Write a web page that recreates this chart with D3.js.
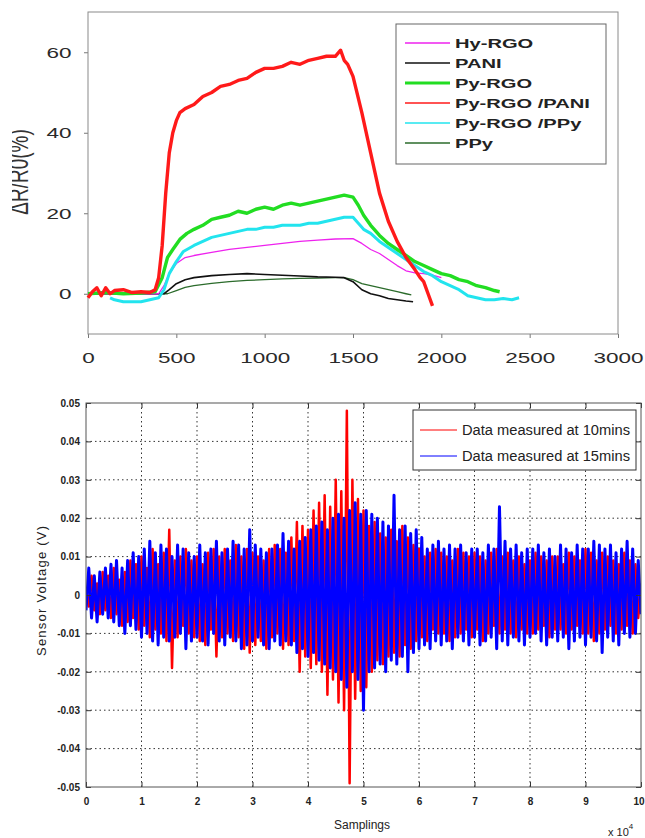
<!DOCTYPE html>
<html>
<head>
<meta charset="utf-8">
<script src="https://cdn.jsdelivr.net/npm/d3@7"></script>
<style>
body { margin: 0; background: #fff; }
svg { display: block; font-family: "Liberation Sans", Arial, sans-serif; }
</style>
</head>
<body>
<svg id="vis" width="645" height="838"></svg>
<script>
// ---------- top chart: response curves, [time, dR/R0 %] ----------
var hyRgo = [[0,0],[400,0],[430,2],[460,5],[500,7.5],[550,9],[600,9.5],[700,10.3],[800,11],[900,11.5],[1000,12],
    [1100,12.5],[1200,13],[1300,13.3],[1400,13.6],[1500,13.7],[1550,12.5],[1600,11],[1650,10],[1700,8.5],[1750,7],
    [1800,5.7],[1850,5.2],[1900,5],[1950,4.6],[2000,4]];
var pani = [[0,0],[430,0],[460,1],[500,2.5],[550,3.5],[600,4],[700,4.5],[800,4.8],[900,5],[1000,4.8],[1100,4.6],
    [1200,4.4],[1300,4.2],[1400,4.1],[1450,4],[1500,3],[1550,1],[1600,0],[1650,-0.5],[1700,-1.2],[1750,-1.5],
    [1800,-1.8],[1840,-2]];
var pyRgo = [[0,0],[100,0.3],[200,0],[300,0.2],[380,0.5],[420,4],[450,9],[480,11],[520,13.5],[560,15],[600,16],
    [650,17],[700,18.5],[750,19],[800,19.5],[850,20.5],[900,20],[950,21],[1000,21.5],[1050,21],[1100,22],
    [1150,22.5],[1200,22],[1250,22.5],[1300,23],[1350,23.5],[1400,24],[1450,24.5],[1500,24],[1530,22],
    [1560,19.5],[1600,17],[1650,14.5],[1700,12.5],[1750,11],[1800,9.5],[1850,8],[1900,7],[1950,6],[2000,5],
    [2050,4.5],[2100,3.5],[2150,3],[2200,2],[2250,1.5],[2300,0.8],[2330,0.5]];
var pyRgoPani = [[0,-1],[25,0.5],[50,1.5],[75,-0.5],[100,1.5],[125,0],[150,0.8],[200,1],[250,0.3],[300,0.5],
    [350,0.3],[380,1],[400,4],[420,12],[440,25],[460,35],[480,40],[500,43],[520,45],[550,46],[600,47],[650,49],
    [700,50],[750,51.5],[800,52],[850,53],[900,53.5],[950,55],[1000,56],[1050,56],[1100,56.5],[1150,57.5],
    [1200,57],[1250,58],[1300,58.5],[1350,59],[1400,59],[1430,60.5],[1450,58],[1470,57],[1500,54],[1550,45],
    [1600,35],[1650,25],[1700,18],[1750,13],[1800,9],[1850,6],[1880,4],[1900,3],[1925,0],[1950,-3]];
var pyRgoPpy = [[125,-1],[150,-1.5],[200,-2],[250,-2],[300,-2],[350,-1.5],[400,-1],[430,1],[460,5],[500,8],
    [540,10.5],[600,12],[650,13],[700,14],[750,14.5],[800,15],[850,15.5],[900,16],[950,16],[1000,16.5],
    [1050,16.5],[1100,17],[1150,17],[1200,17],[1250,17.5],[1300,17.5],[1350,18],[1400,18.5],[1450,19],
    [1500,19],[1530,17.5],[1560,16],[1600,15],[1650,13],[1700,11.5],[1750,10],[1800,8.5],[1850,7],[1900,5.5],
    [1950,4.5],[2000,3],[2050,2],[2100,1],[2150,-0.5],[2200,-1],[2250,-1.5],[2300,-1.5],[2350,-1.2],
    [2400,-1.5],[2440,-1]];
var ppy = [[0,0],[450,0],[500,0.8],[550,1.6],[600,2],[700,2.6],[800,3],[900,3.3],[1000,3.5],[1100,3.7],
    [1200,3.8],[1300,3.9],[1400,4],[1450,4],[1500,3.5],[1550,2.5],[1600,2],[1650,1.5],[1700,1],[1750,0.5],
    [1800,0],[1830,-0.3]];

var topNames = ["Hy-RGO", "PANI", "Py-RGO", "Py-RGO /PANI", "Py-RGO /PPy", "PPy"];
var topXTicks = [0, 500, 1000, 1500, 2000, 2500, 3000];
var topYTicks = [0, 20, 40, 60];

// ---------- bottom chart: sensor voltage (mV), one value every 0.05 samplings unit ----------
var sampleStep = 0.05;
var data10mins = [
    2,-3,5,-4,3,-5,6,-4,5,-6,
    7,-5,4,-8,6,-7,9,-6,8,-9,
    10,-8,7,-11,12,-9,8,-10,11,-12,
    17,-19,9,-11,10,-8,12,-10,9,-11,
    10,-12,8,-13,11,-9,12,-16,10,-11,
    12,-10,9,-12,13,-11,10,-14,12,-15,
    11,-13,10,-12,9,-14,12,-11,13,-10,
    12,-14,11,-13,15,-12,19,-20,18,-16,
    17,-19,22,-18,24,-20,26,-26,23,-22,
    30,-28,27,-30,48,-49,30,-27,25,-25,
    22,-24,18,-20,19,-17,16,-18,15,-16,
    17,-15,14,-16,18,-13,15,-14,13,-12,
    12,-11,10,-12,11,-9,12,-10,11,-10,
    10,-12,9,-11,12,-10,11,-9,10,-11,
    11,-9,10,-12,9,-10,11,-8,12,-10,
    10,-9,11,-10,9,-11,10,-9,8,-10,
    9,-10,11,-9,10,-8,9,-11,10,-9,
    10,-9,8,-10,11,-9,10,-8,9,-10,
    12,-10,11,-12,9,-10,11,-9,10,-8,
    9,-10,8,-9,11,-8,9,-10,8,-6,
    3];
var data15mins = [
    -4,7,-6,5,-7,6,-5,7,-6,8,
    -7,9,-8,7,-10,9,-8,11,-9,10,
    -11,12,-10,14,-12,11,-13,13,-11,12,
    -12,10,-11,13,-10,12,-14,11,-12,10,
    -11,13,-12,11,-13,12,-10,14,-12,11,
    -13,12,-11,14,-12,13,-14,12,-13,17,
    -12,13,-11,12,-13,11,-14,12,-12,13,
    -13,16,-12,14,-13,12,-15,14,-14,15,
    -16,17,-15,18,-17,19,-18,17,-19,20,
    -20,21,-22,20,-24,22,-20,24,-22,21,
    -30,22,-20,21,-19,20,-18,19,-20,18,
    -17,26,-18,17,-16,18,-20,16,-15,17,
    -14,15,-13,12,-14,13,-12,14,-13,12,
    -12,13,-14,12,-11,13,-12,11,-13,12,
    -11,12,-13,11,-12,13,-11,12,-14,23,
    -12,14,-13,12,-11,13,-12,11,-13,12,
    -11,12,-10,13,-12,11,-13,12,-11,10,
    -12,13,-11,12,-14,11,-12,13,-11,12,
    -13,12,-11,14,-12,13,-15,12,-11,13,
    -12,11,-13,12,-10,14,-11,12,-10,9,
    -5];
var botNames = ["Data measured at 10mins", "Data measured at 15mins"];
var botXTicks = [0,1,2,3,4,5,6,7,8,9,10];
var botYTicks = [-0.05,-0.04,-0.03,-0.02,-0.01,0,0.01,0.02,0.03,0.04,0.05];
var botYLabels = ["-0.05","-0.04","-0.03","-0.02","-0.01","0","0.01","0.02","0.03","0.04","0.05"];


var svg = d3.select("svg#vis");
var stretch = 1.5; // the top figure is horizontally stretched in the source

// ================= top chart =================
var boxA = {left: 88, right: 618, top: 12, bottom: 334};
var xA = d3.scaleLinear().domain([0, 3000]).range([boxA.left, boxA.right]);
var yA = d3.scaleLinear().domain([-10, 70]).range([boxA.bottom, boxA.top]);

var chartA = svg.append("g").attr("id", "chartA");

let xAxisA = d3.axisBottom(xA).tickValues(topXTicks).tickFormat(d3.format("d")).tickSize(4).tickPadding(14);
let xgA = chartA.append("g")
    .attr("transform", "translate(0," + boxA.bottom + ")")
    .call(xAxisA);
let yAxisA = d3.axisLeft(yA).tickValues(topYTicks).tickFormat(d3.format("d")).tickSize(4).tickPadding(7);
let ygA = chartA.append("g")
    .attr("transform", "translate(" + boxA.left + ",0)")
    .call(yAxisA);

[xgA, ygA].forEach(function (g) {
    g.select(".domain").remove();
    g.selectAll(".tick line").attr("stroke", "#777");
    g.selectAll(".tick text")
        .attr("fill", "#2a2a2a")
        .style("font-size", "15px")
        .attr("transform", "scale(" + stretch + ",1)");
});

chartA.append("rect")
    .attr("x", boxA.left).attr("y", boxA.top)
    .attr("width", boxA.right - boxA.left).attr("height", boxA.bottom - boxA.top)
    .attr("fill", "none").attr("stroke", "#8a8a8a");

// y label, clipped on the left like the source picture
svg.append("clipPath").attr("id", "ylabClip")
    .append("rect").attr("x", 12).attr("y", 0).attr("width", 60).attr("height", 340);
chartA.append("g").attr("clip-path", "url(#ylabClip)")
    .append("text")
    .attr("transform", "translate(28,172) rotate(-90) scale(1," + stretch + ")")
    .style("text-anchor", "middle")
    .style("font-size", "19px")
    .attr("fill", "#333")
    .text("\u0394R/R0(%)");

var lineA = d3.line()
    .x(function (d) { return xA(d[0]); })
    .y(function (d) { return yA(d[1]); });

// legend order: hyRgo, pani, pyRgo, pyRgoPani, pyRgoPpy, ppy
var topSeries = [
    {data: hyRgo, color: "#ee22ee", width: 1.3},
    {data: pani, color: "#111111", width: 1.6},
    {data: pyRgo, color: "#22dd22", width: 3.4},
    {data: pyRgoPani, color: "#ff1a1a", width: 3.4},
    {data: pyRgoPpy, color: "#22e4ee", width: 3},
    {data: ppy, color: "#2b6b2b", width: 1.3}
];
var drawOrder = [5, 1, 0, 4, 2, 3];
drawOrder.forEach(function (i) {
    chartA.append("path")
        .datum(topSeries[i].data)
        .attr("d", lineA)
        .attr("fill", "none")
        .attr("stroke", topSeries[i].color)
        .attr("stroke-width", topSeries[i].width)
        .attr("stroke-linejoin", "round");
});

var legA = chartA.append("g").attr("transform", "translate(396,24)");
legA.append("rect").attr("width", 210).attr("height", 140)
    .attr("fill", "#fff").attr("stroke", "#666");
topNames.forEach(function (name, i) {
    let y = 19 + i * 20;
    legA.append("line")
        .attr("x1", 9).attr("x2", 54).attr("y1", y).attr("y2", y)
        .attr("stroke", topSeries[i].color)
        .attr("stroke-width", i === 2 ? 3 : 1.5);
    legA.append("text")
        .attr("transform", "translate(59," + (y + 5) + ") scale(1.55,1)")
        .style("font-size", "13px")
        .style("font-weight", "bold")
        .attr("fill", "#222")
        .text(name);
});

// ================= bottom chart =================
var boxB = {left: 86, right: 641, top: 403, bottom: 787};
var xB = d3.scaleLinear().domain([0, 10]).range([boxB.left, boxB.right]);
var yB = d3.scaleLinear().domain([-0.05, 0.05]).range([boxB.bottom, boxB.top]);
var wB = boxB.right - boxB.left;
var hB = boxB.bottom - boxB.top;

var chartB = svg.append("g").attr("id", "chartB");

// dotted grid
var gridB = chartB.append("g").attr("stroke", "#333").attr("stroke-width", 1).attr("stroke-dasharray", "1.5,3");
gridB.selectAll("line.gx").data(botXTicks.slice(1, -1)).enter().append("line")
    .attr("x1", function (d) { return xB(d); }).attr("x2", function (d) { return xB(d); })
    .attr("y1", boxB.top).attr("y2", boxB.bottom);
gridB.selectAll("line.gy").data(botYTicks.slice(1, -1)).enter().append("line")
    .attr("y1", function (d) { return yB(d); }).attr("y2", function (d) { return yB(d); })
    .attr("x1", boxB.left).attr("x2", boxB.right);

svg.append("clipPath").attr("id", "plotB")
    .append("rect").attr("x", boxB.left).attr("y", boxB.top).attr("width", wB).attr("height", hB);

var lineB = d3.line()
    .x(function (d, i) { return xB(i * sampleStep); })
    .y(function (d) { return yB(d / 1000); });

var botSeries = [
    {data: data10mins, color: "#ff0000", width: 2.5},
    {data: data15mins, color: "#0000ff", width: 3}
];
botSeries.forEach(function (s) {
    chartB.append("path")
        .datum(s.data)
        .attr("clip-path", "url(#plotB)")
        .attr("d", lineB)
        .attr("fill", "none")
        .attr("stroke", s.color)
        .attr("stroke-width", s.width)
        .attr("stroke-linejoin", "round");
});

// axes with inward ticks (MATLAB look)
let xAxisB = d3.axisBottom(xB).tickValues(botXTicks).tickSizeInner(-5).tickSizeOuter(0).tickPadding(11);
let yAxisB = d3.axisLeft(yB).tickValues(botYTicks).tickSizeInner(-5).tickSizeOuter(0).tickPadding(6)
    .tickFormat(function (d, i) { return botYLabels[i]; });
let xgB = chartB.append("g").attr("transform", "translate(0," + boxB.bottom + ")").call(xAxisB);
let ygB = chartB.append("g").attr("transform", "translate(" + boxB.left + ",0)").call(yAxisB);
let xgB2 = chartB.append("g").attr("transform", "translate(0," + boxB.top + ")")
    .call(d3.axisTop(xB).tickValues(botXTicks).tickSizeInner(-5).tickSizeOuter(0).tickFormat(""));
let ygB2 = chartB.append("g").attr("transform", "translate(" + boxB.right + ",0)")
    .call(d3.axisRight(yB).tickValues(botYTicks).tickSizeInner(-5).tickSizeOuter(0).tickFormat(""));

[xgB, ygB, xgB2, ygB2].forEach(function (g) {
    g.select(".domain").remove();
    g.selectAll(".tick line").attr("stroke", "#333");
    g.selectAll(".tick text").attr("fill", "#222").style("font-size", "10px").style("font-weight", "bold");
});
// the last label sits on the right edge of the page: keep it inside
xgB.selectAll(".tick text").filter(function (d) { return d === 10; })
    .style("text-anchor", "end").attr("x", 3);

chartB.append("rect")
    .attr("x", boxB.left).attr("y", boxB.top).attr("width", wB).attr("height", hB)
    .attr("fill", "none").attr("stroke", "#555");

chartB.append("text")
    .attr("transform", "translate(46," + (boxB.top + hB / 2 - 4) + ") rotate(-90)")
    .style("text-anchor", "middle")
    .style("font-size", "13px")
    .attr("fill", "#222")
    .attr("textLength", 130)
    .text("Sensor Voltage (V)");

chartB.append("text")
    .attr("x", 362).attr("y", 829)
    .style("text-anchor", "middle")
    .style("font-size", "12px")
    .attr("fill", "#222")
    .text("Samplings");

let expo = chartB.append("text")
    .attr("x", 608).attr("y", 836)
    .style("font-size", "11px")
    .attr("fill", "#222");
expo.append("tspan").text("x 10");
expo.append("tspan").attr("dy", -7).style("font-size", "8px").text("4");

var legB = chartB.append("g").attr("transform", "translate(413,410)");
legB.append("rect").attr("width", 223).attr("height", 60)
    .attr("fill", "#fff").attr("stroke", "#333");
botNames.forEach(function (name, i) {
    let y = 20 + i * 26;
    legB.append("line")
        .attr("x1", 7).attr("x2", 44).attr("y1", y).attr("y2", y)
        .attr("stroke", botSeries[i].color);
    legB.append("text")
        .attr("x", 49).attr("y", y + 5)
        .style("font-size", "14px")
        .attr("fill", "#222")
        .attr("textLength", 168)
        .attr("lengthAdjust", "spacingAndGlyphs")
        .text(name);
});
</script>
</body>
</html>
